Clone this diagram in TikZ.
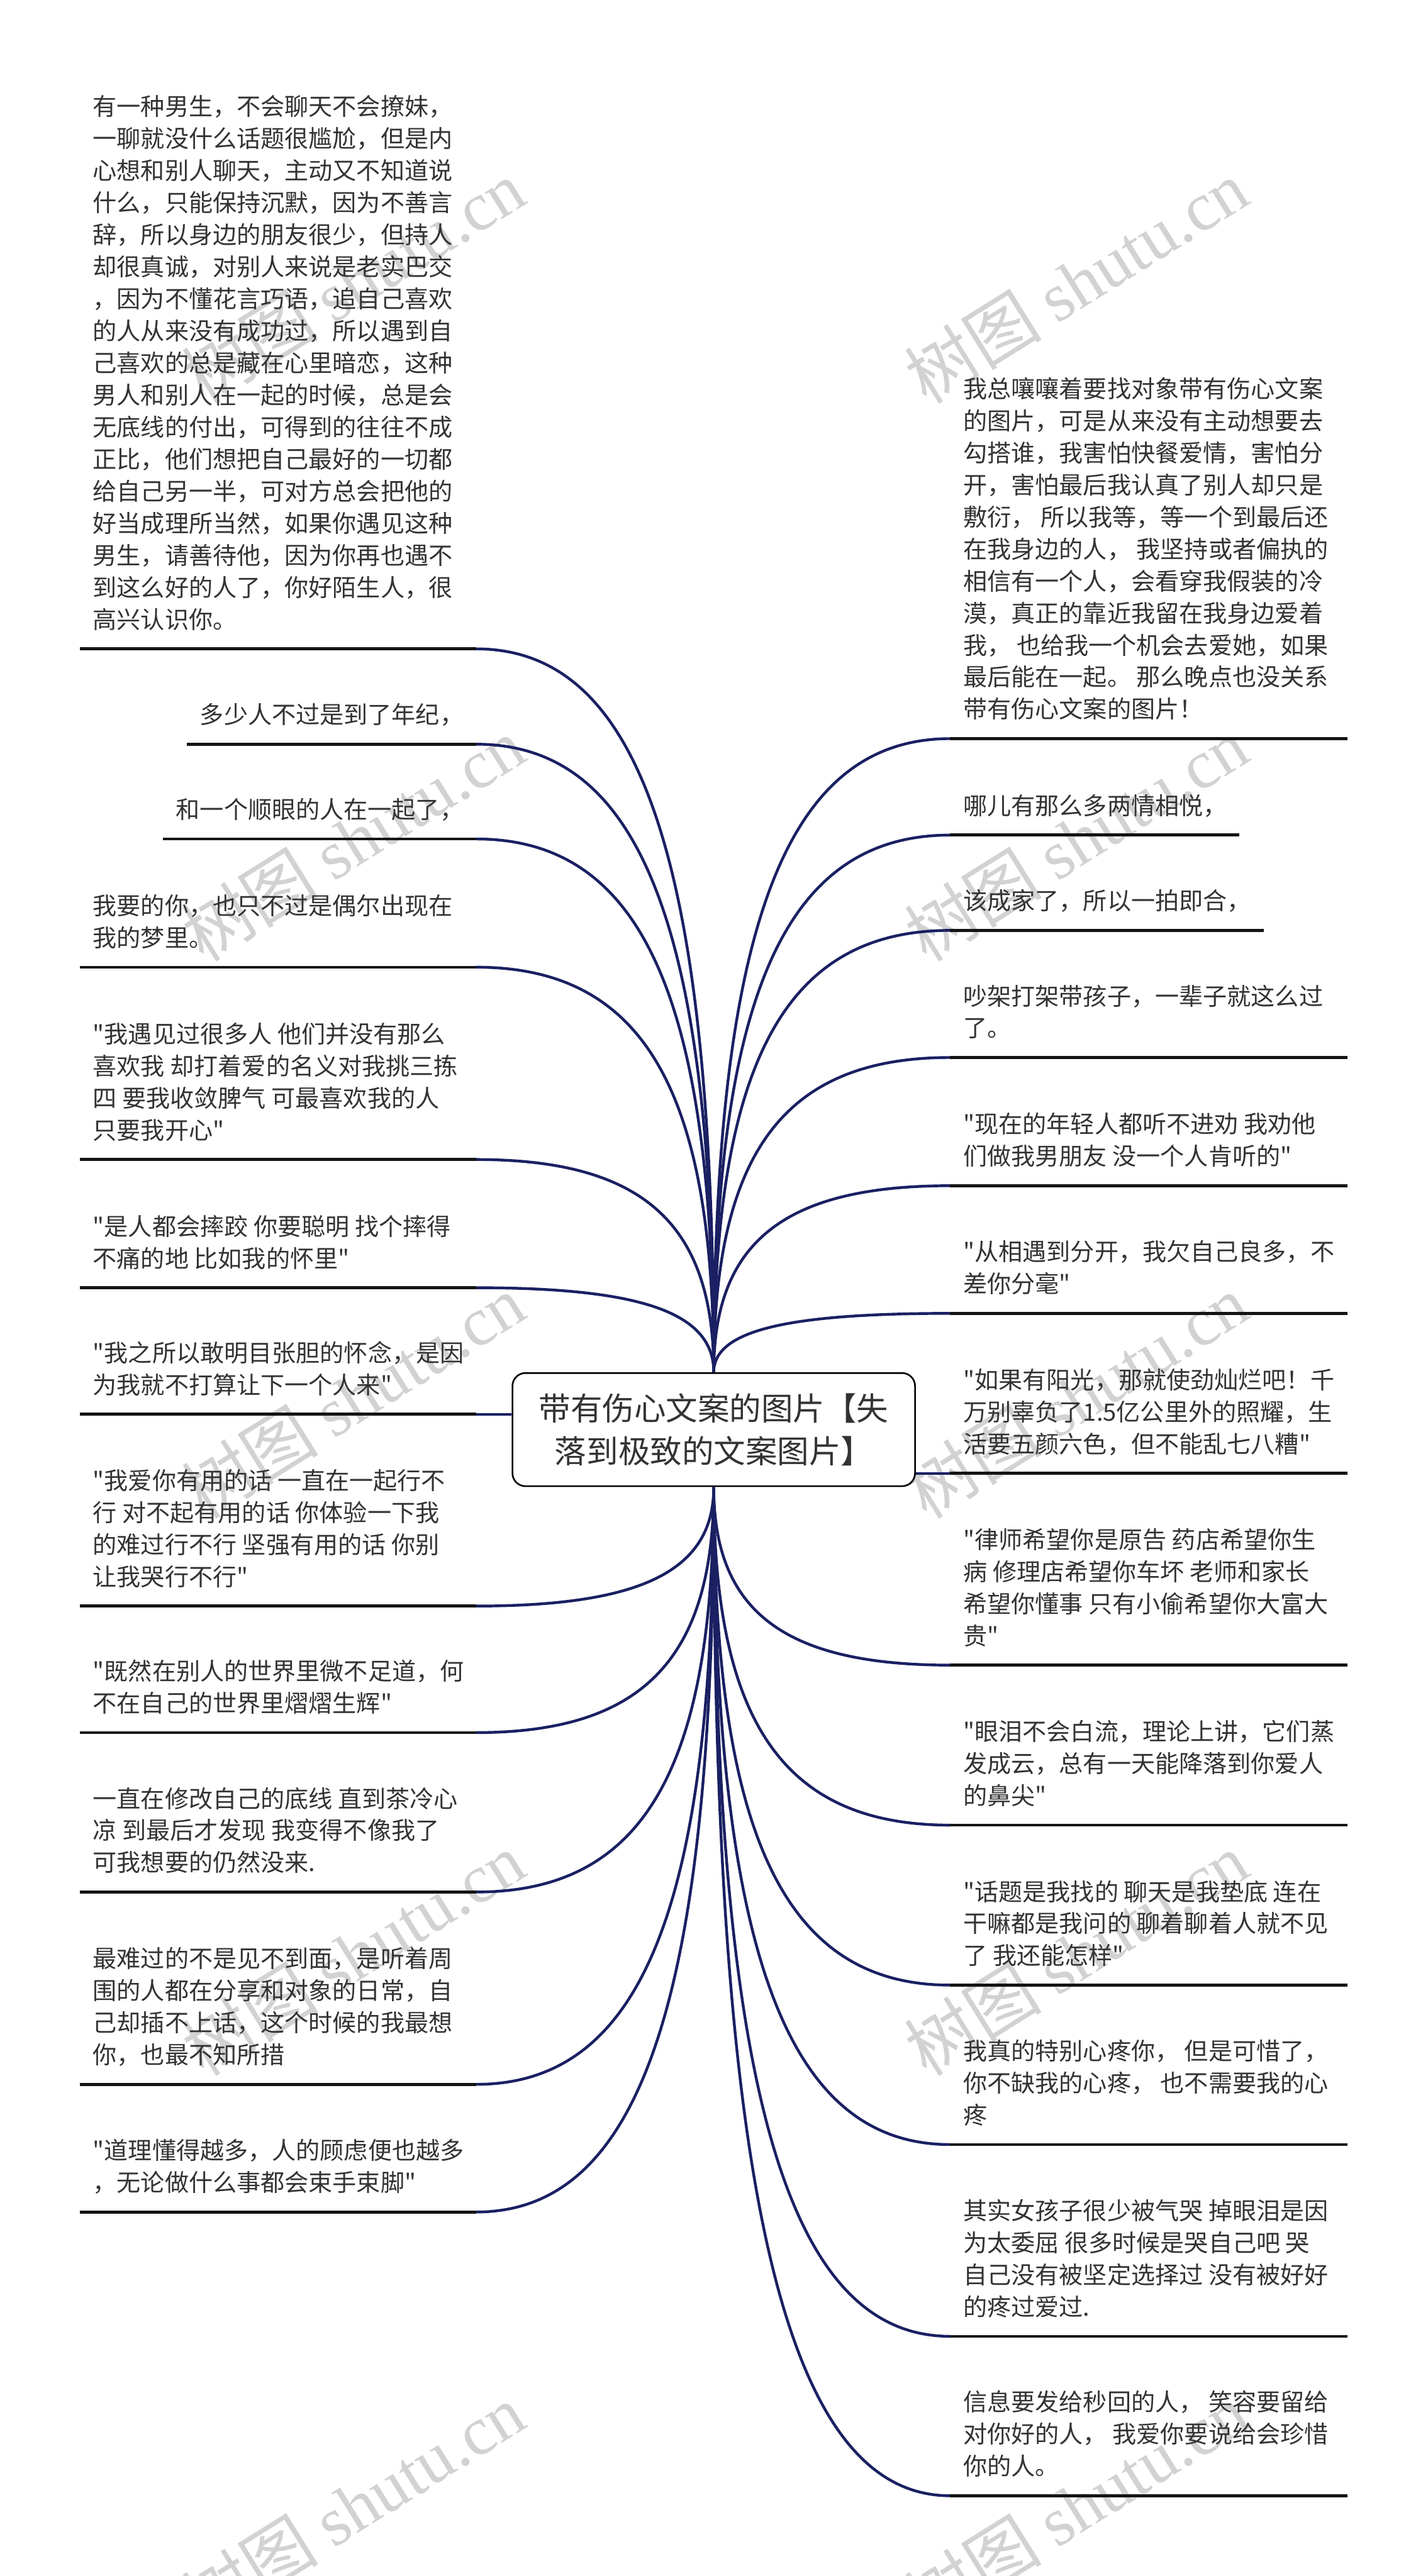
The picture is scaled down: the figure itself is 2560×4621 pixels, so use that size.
\documentclass[tikz,border=0pt]{standalone}
\usepackage{fontspec}
\setmainfont{Noto Sans CJK SC}[Ligatures=TeXOff]
\newfontfamily\wmlatin{Liberation Serif}
\newfontfamily\wmcjk{Noto Sans CJK SC}
\usetikzlibrary{calc}
\definecolor{connc}{HTML}{1A2062}
\definecolor{ink}{HTML}{333333}
\definecolor{wmc}{HTML}{D2D2D2}
\tikzset{
  leaf/.style={inner sep=0pt, text=ink, text depth=0pt, font=\fontsize{12.9pt}{17.25pt}\selectfont},
  uline/.style={draw=black!92, line width=1.6pt},
  link/.style={draw=connc, line width=1.5pt},
  root/.style={draw=black, line width=0.9pt, rounded corners=7pt, fill=white,
    minimum width=216.6pt, minimum height=60.9pt, align=center, text=ink,
    font=\fontsize{17.1pt}{23.1pt}\selectfont, inner sep=0pt},
  wmark/.style={text=wmc, rotate=32, inner sep=0pt, font=\fontsize{37pt}{40pt}\selectfont}
}
\newcommand\leaftext[1]{\parbox[b]{210pt}{\raggedright #1}}
% left child: name, underline y, text west x, text
\newcommand\mmleft[4]{%
  \coordinate (#1a) at (#3-23, #2);
  \coordinate (#1b) at (854, #2);
  \draw[uline] (#1a) -- (#1b);
  \node[leaf, anchor=south west] (#1) at (#3, #2-36) {\leaftext{#4}};
}
% right child: name, underline y, line end x, text
\newcommand\mmright[4]{%
  \coordinate (#1a) at (1704, #2);
  \coordinate (#1b) at (#3, #2);
  \draw[uline] (#1a) -- (#1b);
  \node[leaf, anchor=south west] (#1) at (1727, #2-36) {\leaftext{#4}};
}
% curved connector from root anchor #1 to child end #2
\newcommand\mmcurve[2]{%
  \coordinate (#2k) at (#1 |- #2);
  \draw[link] (#1) .. controls ($(#1)!0.7!(#2k)$) and ($(#2)!0.7!(#2k)$) .. (#2);
}
\begin{document}
\begin{tikzpicture}[x=0.3pt, y=-0.3pt]
\fill[white] (0,0) rectangle (2560,4621);
\useasboundingbox (0,0) rectangle (2560,4621);

% watermarks
\foreach \wx in {633,1930} {
  \foreach \wy in {505,1505,2505,3505,4495} {
    \node[wmark] (wm-\wx-\wy) at (\wx,\wy) {\wmcjk 树图 \wmlatin shutu.cn};
  }
}

% root
\node[root] (root) at (1280,2564.5) {带有伤心文案的图片【失\\落到极致的文案图片】};
\coordinate (ctop) at (root.north);
\coordinate (cbot) at (root.south);

% connectors (drawn first)
\foreach \n/\u/\side in {L1/1164/ctop, L2/1335/ctop, L3/1505/ctop, L4/1735/ctop, L5/2080/ctop, L6/2310/ctop,
                         L8/2881/cbot, L9/3108/cbot, L10/3394/cbot, L11/3739/cbot, L12/3968/cbot} {
  \coordinate (\n e) at (854,\u);
  \mmcurve{\side}{\n e}
}
\foreach \n/\u/\side in {R1/1325/ctop, R2/1498/ctop, R3/1669/ctop, R4/1897/ctop, R5/2127/ctop, R6/2356/ctop,
                         R8/2987/cbot, R9/3274/cbot, R10/3561/cbot, R11/3847/cbot, R12/4191/cbot, R13/4477/cbot} {
  \coordinate (\n e) at (1704,\u);
  \mmcurve{\side}{\n e}
}

% left children
\mmleft{L1}{1164}{166}{有一种男生，不会聊天不会撩妹，\\一聊就没什么话题很尴尬，但是内\\心想和别人聊天，主动又不知道说\\什么，只能保持沉默，因为不善言\\辞，所以身边的朋友很少，但持人\\却很真诚，对别人来说是老实巴交\\，因为不懂花言巧语，追自己喜欢\\的人从来没有成功过，所以遇到自\\己喜欢的总是藏在心里暗恋，这种\\男人和别人在一起的时候，总是会\\无底线的付出，可得到的往往不成\\正比，他们想把自己最好的一切都\\给自己另一半，可对方总会把他的\\好当成理所当然，如果你遇见这种\\男生，请善待他，因为你再也遇不\\到这么好的人了，你好陌生人，很\\高兴认识你。}
\mmleft{L2}{1335}{358}{多少人不过是到了年纪，}
\mmleft{L3}{1505}{315}{和一个顺眼的人在一起了，}
\mmleft{L4}{1735}{166}{我要的你，也只不过是偶尔出现在\\我的梦里。}
\mmleft{L5}{2080}{166}{"我遇见过很多人 他们并没有那么\\喜欢我 却打着爱的名义对我挑三拣\\四 要我收敛脾气 可最喜欢我的人\\只要我开心"}
\mmleft{L6}{2310}{166}{"是人都会摔跤 你要聪明 找个摔得\\不痛的地 比如我的怀里"}
\mmleft{L7}{2537}{166}{"我之所以敢明目张胆的怀念，是因\\为我就不打算让下一个人来"}
\mmleft{L8}{2881}{166}{"我爱你有用的话 一直在一起行不\\行 对不起有用的话 你体验一下我\\的难过行不行 坚强有用的话 你别\\让我哭行不行"}
\mmleft{L9}{3108}{166}{"既然在别人的世界里微不足道，何\\不在自己的世界里熠熠生辉"}
\mmleft{L10}{3394}{166}{一直在修改自己的底线 直到茶冷心\\凉 到最后才发现 我变得不像我了\\可我想要的仍然没来.}
\mmleft{L11}{3739}{166}{最难过的不是见不到面，是听着周\\围的人都在分享和对象的日常，自\\己却插不上话，这个时候的我最想\\你，也最不知所措}
\mmleft{L12}{3968}{166}{"道理懂得越多，人的顾虑便也越多\\，无论做什么事都会束手束脚"}
\draw[link] (L7b) -- (L7b -| root.west);

% right children
\mmright{R1}{1325}{2417}{我总嚷嚷着要找对象带有伤心文案\\的图片，可是从来没有主动想要去\\勾搭谁，我害怕快餐爱情，害怕分\\开，害怕最后我认真了别人却只是\\敷衍， 所以我等，等一个到最后还\\在我身边的人， 我坚持或者偏执的\\相信有一个人，会看穿我假装的冷\\漠，真正的靠近我留在我身边爱着\\我， 也给我一个机会去爱她，如果\\最后能在一起。 那么晚点也没关系\\带有伤心文案的图片！}
\mmright{R2}{1498}{2223}{哪儿有那么多两情相悦，}
\mmright{R3}{1669}{2266}{该成家了，所以一拍即合，}
\mmright{R4}{1897}{2417}{吵架打架带孩子，一辈子就这么过\\了。}
\mmright{R5}{2127}{2417}{"现在的年轻人都听不进劝 我劝他\\们做我男朋友 没一个人肯听的"}
\mmright{R6}{2356}{2417}{"从相遇到分开，我欠自己良多，不\\差你分毫"}
\mmright{R7}{2643}{2417}{"如果有阳光，那就使劲灿烂吧！千\\万别辜负了1.5亿公里外的照耀，生\\活要五颜六色，但不能乱七八糟"}
\mmright{R8}{2987}{2417}{"律师希望你是原告 药店希望你生\\病 修理店希望你车坏 老师和家长\\希望你懂事 只有小偷希望你大富大\\贵"}
\mmright{R9}{3274}{2417}{"眼泪不会白流，理论上讲，它们蒸\\发成云，总有一天能降落到你爱人\\的鼻尖"}
\mmright{R10}{3561}{2417}{"话题是我找的 聊天是我垫底 连在\\干嘛都是我问的 聊着聊着人就不见\\了 我还能怎样"}
\mmright{R11}{3847}{2417}{我真的特别心疼你， 但是可惜了，\\你不缺我的心疼， 也不需要我的心\\疼}
\mmright{R12}{4191}{2417}{其实女孩子很少被气哭 掉眼泪是因\\为太委屈 很多时候是哭自己吧 哭\\自己没有被坚定选择过 没有被好好\\的疼过爱过.}
\mmright{R13}{4477}{2417}{信息要发给秒回的人， 笑容要留给\\对你好的人， 我爱你要说给会珍惜\\你的人。}
\draw[link] (root.east |- R7a) -- (R7a);
\end{tikzpicture}
\end{document}
